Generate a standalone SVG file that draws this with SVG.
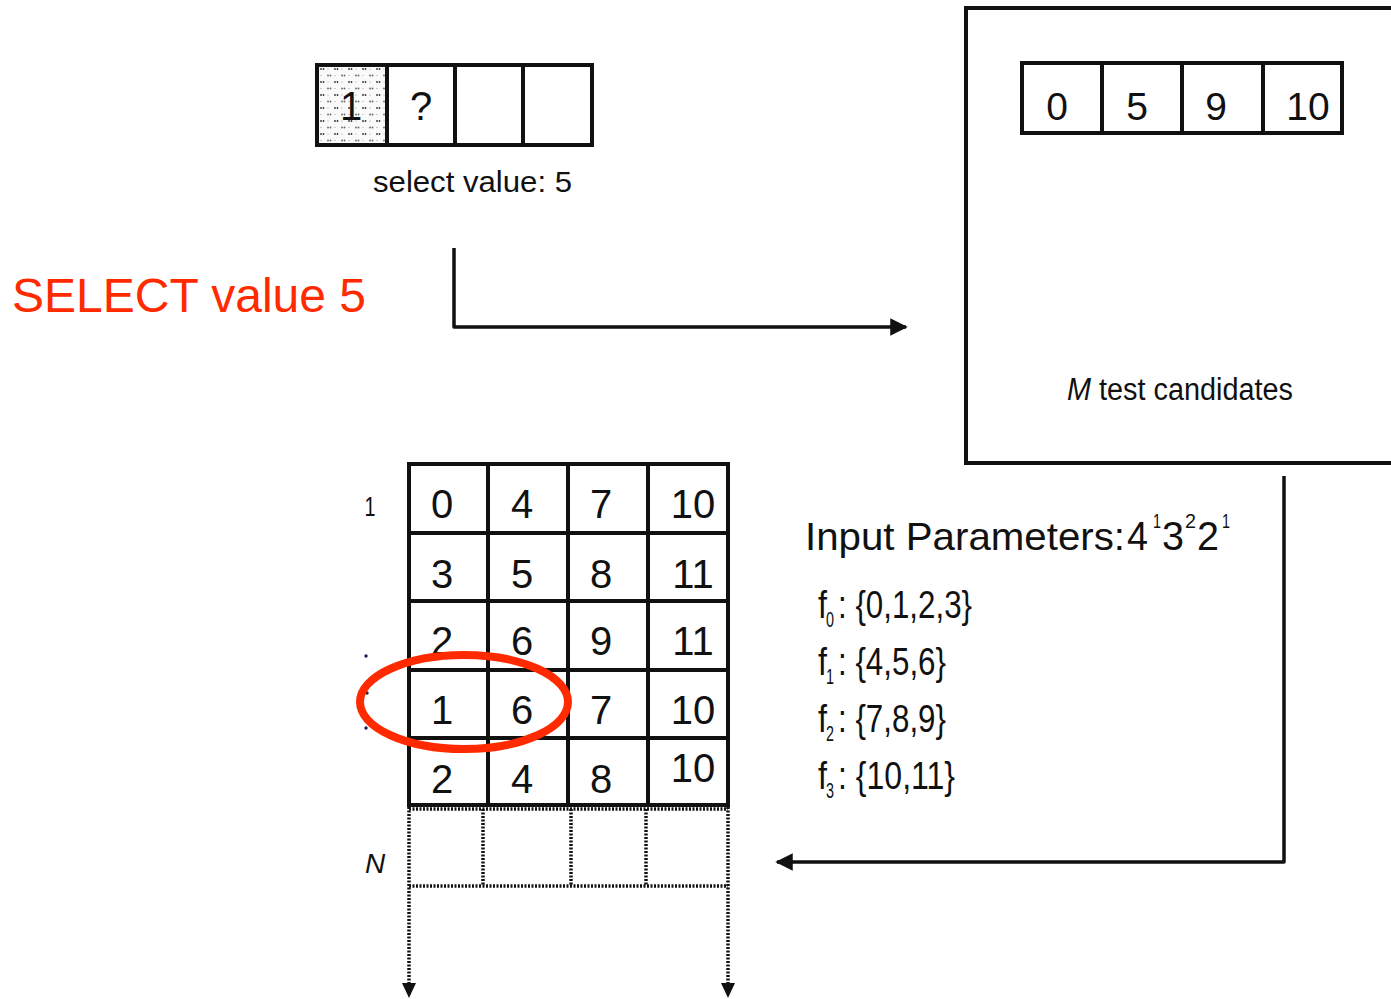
<svg xmlns="http://www.w3.org/2000/svg" width="1391" height="999" viewBox="0 0 1391 999">
  <defs>
    <style>
      .t { font-family: "Liberation Sans", Arial, sans-serif; fill: #111; }
      .cell { fill: #fff; stroke: #111; stroke-width: 4; }
      .line { fill: none; stroke: #111; stroke-width: 4; }
      .conn { fill: none; stroke: #111; stroke-width: 3.5; stroke-linejoin: round; }
      .dot { fill: none; stroke: #111; stroke-width: 3.5; stroke-dasharray: 2 1.5; }
      .red { fill: #ff2a00; }
      .sub { font-size: 22px; }
    </style>
    <pattern id="stipple" width="14" height="13" patternUnits="userSpaceOnUse" x="318" y="66">
      <rect width="14" height="13" fill="#fafafa"/>
      <circle cx="3" cy="3" r="0.9" fill="#333"/>
      <circle cx="5.5" cy="3" r="0.9" fill="#333"/>
      <circle cx="10" cy="9.5" r="0.9" fill="#666"/>
      <circle cx="12.5" cy="9.5" r="0.9" fill="#666"/>
      <circle cx="3" cy="9.5" r="0.6" fill="#999"/>
      <circle cx="10" cy="3" r="0.6" fill="#999"/>
    </pattern>
    <marker id="arrow" viewBox="0 0 10 10" refX="9" refY="5" markerWidth="5" markerHeight="5" orient="auto" markerUnits="strokeWidth">
      <path d="M0,0 L10,5 L0,10 z" fill="#111"/>
    </marker>
  </defs>

  <!-- current partial test case being built -->
  <g id="partial-case">
    <rect x="317" y="65" width="275" height="80" class="cell"/>
    <rect x="319" y="67" width="68" height="76" fill="url(#stipple)"/>
    <line x1="387" y1="65" x2="387" y2="145" class="line"/>
    <line x1="455" y1="65" x2="455" y2="145" class="line"/>
    <line x1="523" y1="65" x2="523" y2="145" class="line"/>
    <text x="351" y="120" class="t" font-size="40" text-anchor="middle">1</text>
    <text x="421" y="120" class="t" font-size="40" text-anchor="middle">?</text>
    <text x="373" y="192" class="t" font-size="30" textLength="199" lengthAdjust="spacingAndGlyphs">select value: 5</text>
  </g>

  <g id="select-label">
    <text x="12" y="312" class="t red" font-size="48" textLength="354" lengthAdjust="spacingAndGlyphs">SELECT value 5</text>
  </g>

  <!-- pool of candidate test cases -->
  <g id="candidates">
    <rect x="966" y="8" width="440" height="455" class="line"/>
    <rect x="1022" y="63" width="320" height="70" class="cell"/>
    <line x1="1102" y1="63" x2="1102" y2="133" class="line"/>
    <line x1="1182" y1="63" x2="1182" y2="133" class="line"/>
    <line x1="1263" y1="63" x2="1263" y2="133" class="line"/>
    <text x="1057" y="120" class="t" font-size="39" text-anchor="middle">0</text>
    <text x="1137" y="120" class="t" font-size="39" text-anchor="middle">5</text>
    <text x="1216" y="120" class="t" font-size="39" text-anchor="middle">9</text>
    <text x="1308" y="120" class="t" font-size="39" text-anchor="middle">10</text>
    <text x="1067" y="400" class="t" font-size="31" textLength="226" lengthAdjust="spacingAndGlyphs"><tspan font-style="italic">M</tspan> test candidates</text>
  </g>

  <!-- covering array built so far -->
  <g id="test-suite">
    <rect x="409" y="464" width="319" height="341" class="cell"/>
    <line x1="488" y1="464" x2="488" y2="805" class="line"/>
    <line x1="568" y1="464" x2="568" y2="805" class="line"/>
    <line x1="648" y1="464" x2="648" y2="805" class="line"/>
    <line x1="409" y1="533" x2="728" y2="533" class="line"/>
    <line x1="409" y1="601" x2="728" y2="601" class="line"/>
    <line x1="409" y1="670" x2="728" y2="670" class="line"/>
    <line x1="409" y1="738" x2="728" y2="738" class="line"/>
    <g class="t" font-size="40" text-anchor="middle">
      <text x="442" y="518">0</text><text x="522" y="518">4</text><text x="601" y="518">7</text><text x="693" y="518">10</text>
      <text x="442" y="588">3</text><text x="522" y="588">5</text><text x="601" y="588">8</text><text x="693" y="588">11</text>
      <text x="442" y="655">2</text><text x="522" y="655">6</text><text x="601" y="655">9</text><text x="693" y="655">11</text>
      <text x="442" y="724">1</text><text x="522" y="724">6</text><text x="601" y="724">7</text><text x="693" y="724">10</text>
      <text x="442" y="793">2</text><text x="522" y="793">4</text><text x="601" y="793">8</text><text x="693" y="782">10</text>
    </g>
    <!-- row index labels -->
    <text x="370" y="516" class="t" font-size="28" text-anchor="middle" textLength="11" lengthAdjust="spacingAndGlyphs" fill="#1a2050">1</text>
    <circle cx="366" cy="656" r="1.7" fill="#1a2050"/>
    <circle cx="367" cy="693" r="1.7" fill="#1a2050"/>
    <circle cx="366" cy="728" r="1.7" fill="#1a2050"/>
    <text x="375" y="873" class="t" font-size="28" font-style="italic" text-anchor="middle">N</text>
    <!-- rows still to come -->
    <line x1="409" y1="809" x2="728" y2="809" class="dot"/>
    <line x1="409" y1="886" x2="728" y2="886" class="dot"/>
    <line x1="483" y1="809" x2="483" y2="886" class="dot"/>
    <line x1="571" y1="809" x2="571" y2="886" class="dot"/>
    <line x1="646" y1="809" x2="646" y2="886" class="dot"/>
    <line x1="409" y1="807" x2="409" y2="984" class="dot"/>
    <line x1="728" y1="807" x2="728" y2="984" class="dot"/>
    <path d="M402,983 L416,983 L409,998 z" fill="#111"/>
    <path d="M721,983 L735,983 L728,998 z" fill="#111"/>
  </g>

  <!-- selected pair in the covering array -->
  <g id="highlight">
    <ellipse cx="464" cy="702" rx="104" ry="47" fill="none" stroke="#ff2a00" stroke-width="8"/>
  </g>

  <!-- parameter model -->
  <g id="input-parameters">
    <text x="805" y="550" class="t" font-size="39" textLength="320" lengthAdjust="spacingAndGlyphs">Input Parameters:</text>
    <text x="1127" y="550" class="t" font-size="40" textLength="21" lengthAdjust="spacingAndGlyphs">4</text>
    <text x="1153" y="528" class="t" font-size="21" textLength="8" lengthAdjust="spacingAndGlyphs">1</text>
    <text x="1162" y="550" class="t" font-size="40" textLength="22" lengthAdjust="spacingAndGlyphs">3</text>
    <text x="1185" y="528" class="t" font-size="21" textLength="11" lengthAdjust="spacingAndGlyphs">2</text>
    <text x="1197" y="550" class="t" font-size="40" textLength="22" lengthAdjust="spacingAndGlyphs">2</text>
    <text x="1222" y="528" class="t" font-size="21" textLength="8" lengthAdjust="spacingAndGlyphs">1</text>

    <text x="818" y="618" class="t" font-size="38" textLength="9" lengthAdjust="spacingAndGlyphs">f</text>
    <text x="826" y="627" class="t sub" textLength="8" lengthAdjust="spacingAndGlyphs">0</text>
    <text x="838" y="618" class="t" font-size="38" textLength="134" lengthAdjust="spacingAndGlyphs">: {0,1,2,3}</text>

    <text x="818" y="675" class="t" font-size="38" textLength="9" lengthAdjust="spacingAndGlyphs">f</text>
    <text x="826" y="684" class="t sub" textLength="8" lengthAdjust="spacingAndGlyphs">1</text>
    <text x="838" y="675" class="t" font-size="38" textLength="108" lengthAdjust="spacingAndGlyphs">: {4,5,6}</text>

    <text x="818" y="732" class="t" font-size="38" textLength="9" lengthAdjust="spacingAndGlyphs">f</text>
    <text x="826" y="741" class="t sub" textLength="8" lengthAdjust="spacingAndGlyphs">2</text>
    <text x="838" y="732" class="t" font-size="38" textLength="108" lengthAdjust="spacingAndGlyphs">: {7,8,9}</text>

    <text x="818" y="789" class="t" font-size="38" textLength="9" lengthAdjust="spacingAndGlyphs">f</text>
    <text x="826" y="798" class="t sub" textLength="8" lengthAdjust="spacingAndGlyphs">3</text>
    <text x="838" y="789" class="t" font-size="38" textLength="117" lengthAdjust="spacingAndGlyphs">: {10,11}</text>
  </g>

  <g id="connectors">
    <path d="M454,248 L454,327 L906,327" class="conn" marker-end="url(#arrow)"/>
    <path d="M1284,476 L1284,862 L777,862" class="conn" marker-end="url(#arrow)"/>
  </g>
</svg>
